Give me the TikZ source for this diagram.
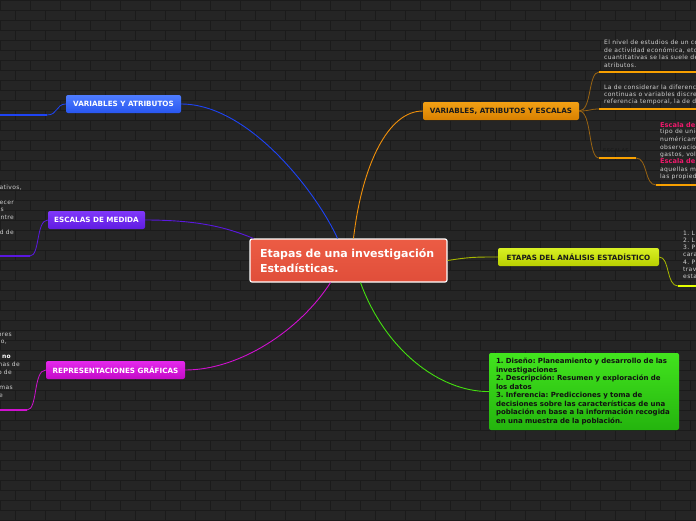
\documentclass[tikz,border=0pt]{standalone}
\usepackage{fontspec}
\setmainfont{DejaVu Sans}
\newfontfamily\notefont[LetterSpace=6]{DejaVu Sans}
\frenchspacing
\definecolor{bgc}{HTML}{252525}
\definecolor{mortar}{HTML}{1B1B1B}
\definecolor{notec}{HTML}{CFCFCF}
\definecolor{pinkc}{HTML}{F0186C}
\definecolor{bluel}{HTML}{1E44F5}
\definecolor{purl}{HTML}{5A18E0}
\definecolor{magl}{HTML}{D010D0}
\definecolor{oral}{HTML}{F0900A}
\definecolor{orab}{HTML}{F8A000}
\definecolor{orat}{HTML}{9A6412}
\definecolor{olil}{HTML}{A8B800}
\definecolor{yelb}{HTML}{E4FF00}
\definecolor{grnl}{HTML}{44E010}
\tikzset{
  mbox/.style={rounded corners=2pt, minimum height=18pt, inner sep=0pt, font=\fontsize{7.2}{8}\selectfont\bfseries},
  note/.style={anchor=west, inner sep=0pt, text=notec, font=\notefont\fontsize{6}{6}\selectfont},
  lnote/.style={anchor=east, inner sep=0pt, text=notec, font=\notefont\fontsize{6}{6}\selectfont},
  pnote/.style={anchor=west, inner sep=0pt, text=pinkc, font=\fontsize{6.6}{6}\selectfont\bfseries},
  conn/.style={line width=0.9pt},
  twig/.style={line width=0.8pt},
  bar/.style={line width=2.2pt},
}
\begin{document}
\begin{tikzpicture}[x=1pt,y=-1pt]
\clip (0,0) rectangle (696,520);
\fill[bgc] (0,0) rectangle (696,520);
\foreach \r in {0,...,52} {
  \draw[mortar, line width=0.8pt] (0,\r*10) -- (696,\r*10);
  \pgfmathsetmacro{\off}{mod(\r,2)*15}
  \foreach \c in {0,...,24} {
    \draw[mortar, line width=0.8pt] (\c*30+\off,\r*10) -- (\c*30+\off,\r*10+10);
  }
}
% central
\node[draw=white, line width=1.2pt, top color={rgb,255:red,236;green,92;blue,68}, bottom color={rgb,255:red,224;green,78;blue,58}, rounded corners=2pt, minimum width=197pt, minimum height=43pt, text width=177pt, inner xsep=10pt, align=left, text=white, font=\fontsize{11}{15}\selectfont\bfseries] (c) at (348.5,260.5) {Etapas de una investigación\\Estadísticas.};
% main boxes
\node[mbox, minimum width=115pt, top color={rgb,255:red,78;green,124;blue,255}, bottom color={rgb,255:red,40;green,86;blue,240}, text=white] (va) at (123.5,104) {VARIABLES Y ATRIBUTOS};
\node[mbox, minimum width=97pt, top color={rgb,255:red,128;green,56;blue,250}, bottom color={rgb,255:red,96;green,28;blue,226}, text=white] (em) at (96.5,220) {ESCALAS DE MEDIDA};
\node[mbox, minimum width=139pt, top color={rgb,255:red,228;green,40;blue,236}, bottom color={rgb,255:red,196;green,10;blue,200}, text=white] (rg) at (115.5,370) {REPRESENTACIONES GRÁFICAS};
\node[mbox, minimum width=156pt, top color={rgb,255:red,242;green,160;blue,20}, bottom color={rgb,255:red,216;green,128;blue,0}, text={rgb,255:red,26;green,26;blue,26}] (vae) at (501,111) {VARIABLES, ATRIBUTOS Y ESCALAS};
\node[mbox, minimum width=161pt, top color={rgb,255:red,216;green,240;blue,36}, bottom color={rgb,255:red,186;green,208;blue,0}, text={rgb,255:red,26;green,26;blue,26}] (ea) at (578.5,257) {ETAPAS DEL ANÁLISIS ESTADÍSTICO};
\node[rounded corners=2pt, minimum width=190pt, minimum height=77pt, text width=176pt, inner xsep=7pt, align=left, top color={rgb,255:red,66;green,228;blue,30}, bottom color={rgb,255:red,36;green,180;blue,14}, text={rgb,255:red,17;green,17;blue,17}, font=\fontsize{7}{8.5}\selectfont\bfseries] (gr) at (584,391.5) {1. Diseño: Planeamiento y desarrollo de las\\investigaciones\\2. Descripción: Resumen y exploración de\\los datos\\3. Inferencia: Predicciones y toma de\\decisiones sobre las características de una\\población en base a la información recogida\\en una muestra de la población.};
% connectors from centre
\draw[conn, bluel] ([xshift=-11pt]c.north) .. controls (318,195) and (250,104) .. (va.east);
\draw[conn, purl] (em.east) .. controls (200,220) and (228,228) .. ([xshift=4pt]c.north west);
\draw[conn, magl] ([xshift=-18pt]c.south) .. controls (300,330) and (240,370) .. (rg.east);
\draw[conn, oral] ([xshift=5pt]c.north) .. controls (362,165) and (388,111) .. (vae.west);
\draw[conn, grnl] ([xshift=12pt]c.south) .. controls (385,350) and (440,392) .. (gr.west);
\draw[conn, olil] (c.east) .. controls (470,257) and (475,257) .. (ea.west);
% left branches
\coordinate (b1) at (47,115);
\coordinate (b1e) at (0,115);
\draw[twig, bluel] (va.west) .. controls (56,104) and (58,115) .. (b1);
\draw[bar, bluel] (b1) -- (b1e);
\coordinate (p1) at (30,256);
\coordinate (p1e) at (0,256);
\draw[twig, purl] (em.west) .. controls (36,220) and (40,256) .. (p1);
\draw[bar, purl] (p1) -- (p1e);
\coordinate (m1) at (27,410);
\coordinate (m1e) at (0,410);
\draw[twig, magl] (rg.west) .. controls (33,370) and (38,410) .. (m1);
\draw[bar, magl] (m1) -- (m1e);
% right orange branches
\coordinate (o1) at (599,72);   \coordinate (o1e) at (696,72);
\coordinate (o2) at (599,109);  \coordinate (o2e) at (696,109);
\coordinate (o3) at (599,158);  \coordinate (o3e) at (636,158);
\coordinate (o4) at (656,185);  \coordinate (o4e) at (696,185);
\draw[twig, orat] (vae.east) .. controls (592,111) and (588,72) .. (o1);
\draw[twig, orat] (vae.east) .. controls (590,111) and (590,109) .. (o2);
\draw[twig, orat] (vae.east) .. controls (592,111) and (588,158) .. (o3);
\draw[twig, orat] (o3e) .. controls (648,158) and (644,185) .. (o4);
\draw[bar, orab] (o1) -- (o1e);
\draw[bar, orab] (o2) -- (o2e);
\draw[bar, orab] (o3) -- (o3e);
\draw[bar, orab] (o4) -- (o4e);
% yellow branch
\coordinate (y1) at (678,286); \coordinate (y1e) at (696,286);
\draw[twig, olil] (ea.east) .. controls (670,257) and (666,286) .. (y1);
\draw[bar, yelb] (y1) -- (y1e);
% right notes
\node[note] (n1) at (604,42.5) {El nivel de estudios de un cole};
\node[note] (n2) at (604,50) {de actividad económica, etc. A};
\node[note] (n3) at (604,57.5) {cuantitativas se las suele desig};
\node[note] (n4) at (604,65) {atributos.};
\node[note] (n5) at (604,87) {La de considerar la diferencia e};
\node[note] (n6) at (604,94.5) {continuas o variables discretas};
\node[note] (n7) at (604,102) {referencia temporal, la de dist};
\node[anchor=west, inner sep=0pt, text={rgb,255:red,24;green,24;blue,24}, font=\notefont\fontsize{5.2}{6}\selectfont] (esc) at (603,151) {ESCALAS};
\node[pnote] (s1) at (660,125) {Escala de l};
\node[note] (s2) at (660,132.3) {tipo de unid};
\node[note] (s3) at (660,139.6) {numéricame};
\node[note] (s4) at (660,147) {observacion};
\node[note] (s5) at (660,154.3) {gastos, volú};
\node[pnote] (s6) at (660,161.6) {Escala de p};
\node[note] (s7) at (660,169.6) {aquellas me};
\node[note] (s8) at (660,177) {las propieda};
\node[note] (e1) at (683,233) {1. L};
\node[note] (e2) at (683,240.5) {2. L};
\node[note] (e3) at (683,247.5) {3. P};
\node[note] (e4) at (683,254.5) {cara};
\node[note] (e5) at (683,262) {4. P};
\node[note] (e6) at (683,269.5) {trav};
\node[note] (e7) at (683,276.5) {esta};
% left notes
\node[lnote] (l1) at (22,188) {tativos,};
\node[lnote] (l2) at (14,202.5) {decer};
\node[lnote] (l3) at (4,210) {s};
\node[lnote] (l4) at (14,217.5) {entre};
\node[lnote] (l5) at (14,232) {ad de};
\node[lnote] (r1) at (12,335) {ores};
\node[lnote] (r2) at (7,342.5) {o,};
\node[lnote] (r3) at (11,357) {s \textcolor{white}{\bfseries no}};
\node[lnote] (r4) at (20,364.5) {mas de};
\node[lnote] (r5) at (12,372) {o de};
\node[lnote] (r6) at (13,388) {mas};
\node[lnote] (r7) at (3,395.5) {e};
\end{tikzpicture}
\end{document}
